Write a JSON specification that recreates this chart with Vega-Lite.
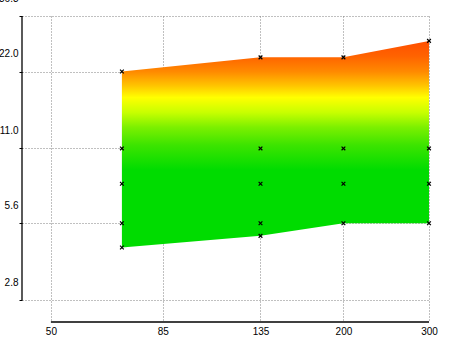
{
  "$schema": "https://vega.github.io/schema/vega-lite/v6.json",
  "width": 407,
  "height": 306,
  "autosize": {"type": "none"},
  "padding": {"left": 22, "top": 16, "right": 21, "bottom": 15},
  "background": "white",
  "config": {
    "view": {"stroke": null},
    "axis": {
      "labelFont": "Liberation Sans",
      "labelFontSize": 10,
      "labelColor": "#000000",
      "gridColor": "#808080",
      "gridDash": [1, 2],
      "gridWidth": 1,
      "gridOpacity": 1,
      "labelOverlap": false,
      "labelFlush": false,
      "title": null
    }
  },
  "datasets": {
    "band": [
      {"focal": 70, "fmin": 4.5, "fmax": 22},
      {"focal": 135, "fmin": 5.0, "fmax": 25},
      {"focal": 200, "fmin": 5.6, "fmax": 25},
      {"focal": 300, "fmin": 5.6, "fmax": 29}
    ],
    "stops": [
      {"focal": 70, "f": 22}, {"focal": 70, "f": 11}, {"focal": 70, "f": 8}, {"focal": 70, "f": 5.6}, {"focal": 70, "f": 4.5},
      {"focal": 135, "f": 25}, {"focal": 135, "f": 11}, {"focal": 135, "f": 8}, {"focal": 135, "f": 5.6}, {"focal": 135, "f": 5.0},
      {"focal": 200, "f": 25}, {"focal": 200, "f": 11}, {"focal": 200, "f": 8}, {"focal": 200, "f": 5.6},
      {"focal": 300, "f": 29}, {"focal": 300, "f": 11}, {"focal": 300, "f": 8}, {"focal": 300, "f": 5.6}
    ],
    "one": [{"k": 1}]
  },
  "layer": [
    {
      "data": {"name": "band"},
      "mark": {
        "type": "area",
        "interpolate": "linear",
        "fill": {
          "gradient": "linear",
          "x1": 0, "y1": 0, "x2": 0, "y2": 1,
          "stops": [
            {"offset": 0, "color": "#ff4e00"},
            {"offset": 0.077, "color": "#ff6400"},
            {"offset": 0.149, "color": "#ff8a00"},
            {"offset": 0.216, "color": "#ffc400"},
            {"offset": 0.274, "color": "#ffff00"},
            {"offset": 0.346, "color": "#c8ff00"},
            {"offset": 0.418, "color": "#7cf000"},
            {"offset": 0.505, "color": "#3ce400"},
            {"offset": 0.625, "color": "#00dc00"},
            {"offset": 1, "color": "#00dc00"}
          ]
        }
      },
      "encoding": {
        "x": {
          "field": "focal", "type": "quantitative",
          "scale": {"type": "log", "domain": [43.6, 300], "nice": false},
          "axis": {
            "values": [50, 85, 135, 200, 300],
            "format": "d",
            "grid": true,
            "domain": false,
            "ticks": false,
            "labelPadding": 4,
            "labelAlign": "center"
          }
        },
        "y": {
          "field": "fmax", "type": "quantitative",
          "scale": {"type": "log", "base": 2, "domain": [2.3, 36.3], "nice": false},
          "axis": {
            "values": [2.8, 5.6, 11, 22, 36.3],
            "format": ".1f",
            "grid": true,
            "domain": false,
            "ticks": true,
            "tickSize": 3,
            "tickColor": "#000000",
            "labelPadding": 1,
            "labelBaseline": "middle",
            "labelOffset": -18
          }
        },
        "y2": {"field": "fmin"}
      }
    },
    {
      "data": {"name": "one"},
      "mark": {"type": "rule", "color": "#000000", "strokeWidth": 1.3},
      "encoding": {
        "x": {"datum": 43.6, "type": "quantitative"},
        "y": {"datum": 2.8, "type": "quantitative"},
        "y2": {"datum": 36.3}
      }
    },
    {
      "data": {"name": "one"},
      "mark": {"type": "rule", "color": "#000000", "strokeWidth": 1.3},
      "encoding": {
        "y": {"datum": 2.3, "type": "quantitative"},
        "x": {"datum": 50, "type": "quantitative"},
        "x2": {"datum": 300}
      }
    },
    {
      "data": {"name": "stops"},
      "mark": {
        "type": "point",
        "shape": "M-1,-1L1,1M-1,1L1,-1",
        "filled": false,
        "stroke": "#000000",
        "strokeWidth": 1.2,
        "size": 14,
        "opacity": 1
      },
      "encoding": {
        "x": {"field": "focal", "type": "quantitative"},
        "y": {"field": "f", "type": "quantitative"}
      }
    }
  ]
}
